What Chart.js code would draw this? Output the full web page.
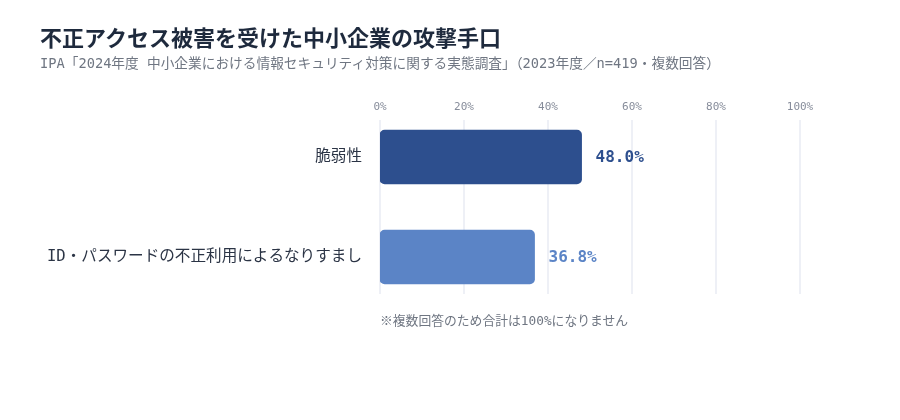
<!DOCTYPE html>
<html lang="ja">
  <head>
    <meta charset="UTF-8" />
    <title>不正アクセス被害を受けた中小企業の攻撃手口</title>
    <script src="https://cdn.jsdelivr.net/npm/chart.js"></script>
    <style>
      body {
        margin: 0;
        background: #fff;
        font-family: "DejaVu Sans Mono", "Noto Sans CJK JP", monospace;
      }
      .wrap {
        position: relative;
        width: 900px;
        height: 420px;
      }
      .title {
        position: absolute;
        left: 40px;
        top: 20px;
        margin: 0;
        font-size: 22px;
        font-weight: bold;
        color: #1e2a3d;
      }
      .sub {
        position: absolute;
        left: 40px;
        top: 52px;
        margin: 0;
        font-size: 13.7px;
        color: #6f7682;
      }
      .note {
        position: absolute;
        left: 380px;
        top: 310px;
        margin: 0;
        font-size: 12.8px;
        color: #6f7682;
      }
      canvas {
        position: absolute;
        left: 0;
        top: 0;
      }
    </style>
  </head>
  <body>
    <div class="wrap">
      <canvas id="chart" width="900" height="420"></canvas>
      <h1 class="title">不正アクセス被害を受けた中小企業の攻撃手口</h1>
      <p class="sub">IPA「2024年度 中小企業における情報セキュリティ対策に関する実態調査」（2023年度／n=419・複数回答）</p>
      <p class="note">※複数回答のため合計は100%になりません</p>
    </div>

    <script>
      // data
      const labels = ["脆弱性", "ID・パスワードの不正利用によるなりすまし"];
      const values = [48.0, 36.8];
      const colors = ["#2d4f8e", "#5b84c6"];
      const xTicks = [0, 20, 40, 60, 80, 100];

      const FONT = '"DejaVu Sans Mono", "Noto Sans CJK JP", monospace';

      // light vertical grid, kept inside the band of the bars
      const gridPlugin = {
        id: "grid",
        beforeDatasetsDraw(chart) {
          const ctx = chart.ctx;
          const x = chart.scales.x;
          ctx.save();
          ctx.strokeStyle = "#eef0f6";
          ctx.lineWidth = 2;
          xTicks.forEach((t) => {
            const px = Math.round(x.getPixelForValue(t));
            ctx.beginPath();
            ctx.moveTo(px, 120);
            ctx.lineTo(px, 294);
            ctx.stroke();
          });
          ctx.restore();
        },
      };

      // value labels at the end of each bar
      const valuePlugin = {
        id: "values",
        afterDatasetsDraw(chart) {
          const ctx = chart.ctx;
          const meta = chart.getDatasetMeta(0);
          ctx.save();
          ctx.font = "bold 16px " + FONT;
          ctx.textBaseline = "middle";
          ctx.textAlign = "left";
          meta.data.forEach((bar, i) => {
            ctx.fillStyle = colors[i];
            ctx.fillText(values[i].toFixed(1) + "%", bar.x + 14, bar.y + 1);
          });
          ctx.restore();
        },
      };

      new Chart(document.getElementById("chart"), {
        type: "bar",
        data: {
          labels: labels,
          datasets: [
            {
              data: values,
              backgroundColor: colors,
              borderRadius: 5,
              borderSkipped: false,
              barThickness: 54,
            },
          ],
        },
        options: {
          indexAxis: "y",
          responsive: false,
          animation: false,
          layout: { padding: { top: 0, right: 100, bottom: 113, left: 0 } },
          plugins: { legend: { display: false }, tooltip: { enabled: false } },
          scales: {
            x: {
              position: "top",
              min: 0,
              max: 100,
              afterBuildTicks: (s) => {
                s.ticks = xTicks.map((v) => ({ value: v }));
              },
              afterFit: (s) => {
                s.height = 107;
              },
              border: { display: false },
              grid: { display: false, drawTicks: false },
              ticks: {
                mirror: true,
                padding: -6,
                color: "#868c9a",
                font: { family: FONT, size: 11 },
                callback: (v) => v + "%",
              },
            },
            y: {
              afterFit: (s) => {
                s.width = 380;
              },
              border: { display: false },
              grid: { display: false, drawTicks: false },
              ticks: {
                padding: 18,
                color: "#2b3445",
                font: { family: FONT, size: 15.6 },
              },
            },
          },
        },
        plugins: [gridPlugin, valuePlugin],
      });
    </script>
  </body>
</html>
